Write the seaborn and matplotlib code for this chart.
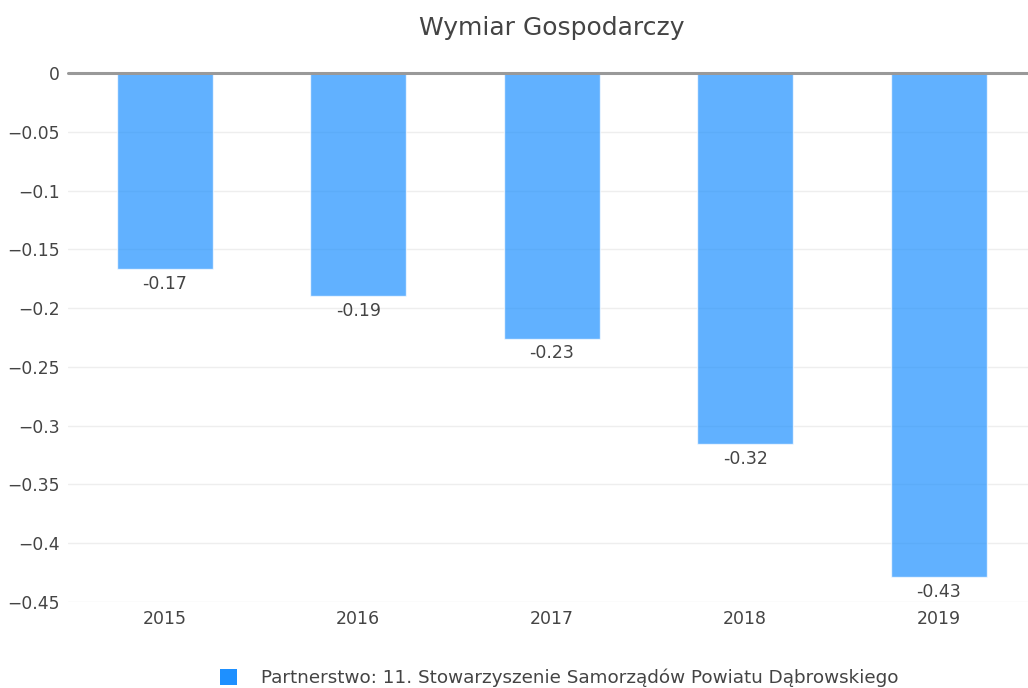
import matplotlib

matplotlib.use("Agg")
import matplotlib.pyplot as plt
import pandas as pd
import seaborn as sns
from matplotlib.patches import Patch

# data
years = ["2015", "2016", "2017", "2018", "2019"]
values = [-0.167, -0.19, -0.226, -0.316, -0.429]
bar_labels = ["-0.17", "-0.19", "-0.23", "-0.32", "-0.43"]
y_ticks = [0, -0.05, -0.1, -0.15, -0.2, -0.25, -0.3, -0.35, -0.4, -0.45]
y_tick_labels = ["0", "\u22120.05", "\u22120.1", "\u22120.15", "\u22120.2",
                 "\u22120.25", "\u22120.3", "\u22120.35", "\u22120.4", "\u22120.45"]
series_name = "Partnerstwo: 11. Stowarzyszenie Samorządów Powiatu Dąbrowskiego"
title = "Wymiar Gospodarczy"

df = pd.DataFrame({"year": years, "value": values})

sns.set_style("white")
plt.rcParams["font.family"] = ["DejaVu Sans"]

fig = plt.figure(figsize=(10.28, 6.88), dpi=100)
ax = fig.add_axes([68 / 1028, 86 / 688, 967.5 / 1028, 529 / 688])

sns.barplot(data=df, x="year", y="value", color="#1e90ff", alpha=0.7,
            saturation=1, width=0.496, ax=ax)

ax.set_ylim(-0.45, 0)
ax.set_xlim(-0.5, 4.5)
ax.set_yticks(y_ticks)
ax.set_yticklabels(y_tick_labels)
ax.grid(axis="y", color="#eeeeee", linewidth=1)
ax.set_axisbelow(True)
ax.axhline(0, color="#999999", linewidth=2.2, zorder=5, clip_on=False)
for s in ax.spines.values():
    s.set_visible(False)
ax.tick_params(axis="y", length=0, labelsize=12.3, colors="#444444", pad=6)
ax.tick_params(axis="x", length=0, labelsize=12.5, colors="#444444", pad=6)
ax.set_xlabel("")
ax.set_ylabel("")

for i, (v, lab) in enumerate(zip(values, bar_labels)):
    ax.annotate(lab, (i, v), xytext=(0, -4), textcoords="offset points",
                ha="center", va="top", fontsize=12.5, color="#444444")

fig.text(552 / 1028, 1 - 28 / 688, title, ha="center", va="center",
         fontsize=18, color="#444444")

handle = Patch(facecolor="#1e90ff", edgecolor="none")
fig.legend([handle], [series_name], loc="center", bbox_to_anchor=(559 / 1028, 1 - 678 / 688),
           frameon=False, fontsize=13.2, handlelength=0.95, handleheight=0.95,
           handletextpad=1.3, labelcolor="#444444")

fig.savefig("out.png", dpi=100)
